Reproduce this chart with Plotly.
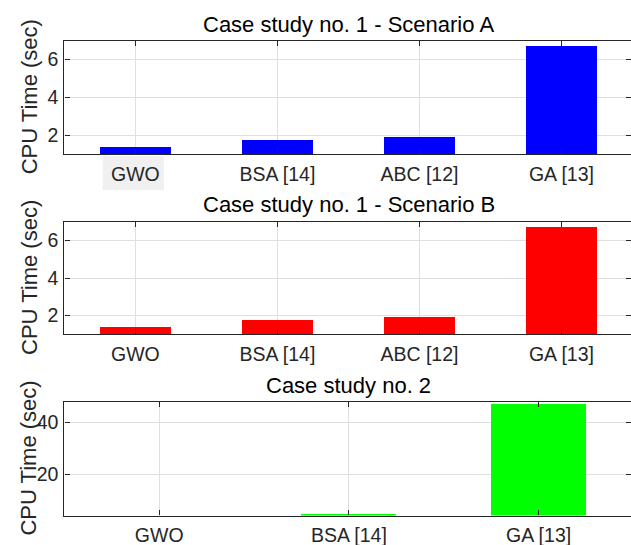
import plotly.graph_objects as go

# ---- data ----
cats_1 = ["GWO", "BSA [14]", "ABC [12]", "GA [13]"]
cpu_1a = [1.37, 1.74, 1.89, 6.75]
cpu_1b = [1.38, 1.79, 1.95, 6.73]
cats_2 = ["GWO", "BSA [14]", "GA [13]"]
cpu_2 = [4.1, 4.8, 47.35]
titles = ["Case study no. 1 - Scenario A", "Case study no. 1 - Scenario B", "Case study no. 2"]
ylabel = "CPU Time (sec)"

W, H = 631, 545
FONT = "Liberation Sans, Arial, Helvetica, sans-serif"
AX = "#262626"
GRID = "#dfdfdf"

def py(px):
    return 1 - px / H

fig = go.Figure()
fig.add_trace(go.Bar(x=cats_1, y=cpu_1a, marker=dict(color="#0000ff", line=dict(width=0)),
                     width=0.5, xaxis="x", yaxis="y", showlegend=False))
fig.add_trace(go.Bar(x=cats_1, y=cpu_1b, marker=dict(color="#ff0000", line=dict(width=0)),
                     width=0.5, xaxis="x2", yaxis="y2", showlegend=False))
fig.add_trace(go.Bar(x=cats_2, y=cpu_2, marker=dict(color="#00ff00", line=dict(width=0)),
                     width=0.5, xaxis="x3", yaxis="y3", showlegend=False))

xdom = [64.4 / W, 1.0]
panels = [
    (40.7, 154.0, [-0.5, 3.49], [1, 7], [2, 4, 6]),
    (221.7, 334.3, [-0.5, 3.49], [1, 7], [2, 4, 6]),
    (401.7, 515.5, [-0.5, 2.487], [4, 48], [20, 40]),
]
common_ax = dict(showline=True, linecolor=AX, linewidth=1.3, mirror="ticks",
                 ticks="inside", ticklen=5, tickwidth=1, tickcolor=AX,
                 showgrid=True, gridcolor=GRID, gridwidth=1, zeroline=False,
                 tickfont=dict(family=FONT, size=19.5, color=AX))
layout = {}
for i, (top, bot, xr, yr, yt) in enumerate(panels):
    sfx = "" if i == 0 else str(i + 1)
    layout["xaxis" + sfx] = dict(domain=xdom, range=xr, type="category",
                                 anchor="y" + sfx, ticklabelstandoff=2, **common_ax)
    layout["yaxis" + sfx] = dict(domain=[py(bot), py(top)], range=yr, tickvals=yt,
                                 anchor="x" + sfx, ticklabelstandoff=1, **common_ax)

annotations = []
title_y = [24, 205, 385]
for t, ty in zip(titles, title_y):
    annotations.append(dict(text=t, x=348.7 / W, y=py(ty), xref="paper", yref="paper",
                            xanchor="center", yanchor="middle", showarrow=False,
                            font=dict(family=FONT, size=22, color="#000000")))
for top, bot, *_ in panels:
    annotations.append(dict(text=ylabel, x=29 / W, y=py((top + bot) / 2), xref="paper", yref="paper",
                            xanchor="center", yanchor="middle", textangle=-90, showarrow=False,
                            font=dict(family=FONT, size=22, color=AX)))

shapes = [dict(type="rect", xref="paper", yref="paper", x0=102.7 / W, x1=164 / W,
               y0=py(190), y1=py(156), fillcolor="#f0f0f0", line=dict(width=0), layer="below")]

fig.update_layout(width=W, height=H, margin=dict(l=0, r=0, t=0, b=0),
                  paper_bgcolor="white", plot_bgcolor="white",
                  annotations=annotations, shapes=shapes, bargap=0, **layout)
fig.write_html("out.html", config={"displayModeBar": False},
               post_script="document.body.style.margin='0px';document.body.style.overflow='hidden';")
